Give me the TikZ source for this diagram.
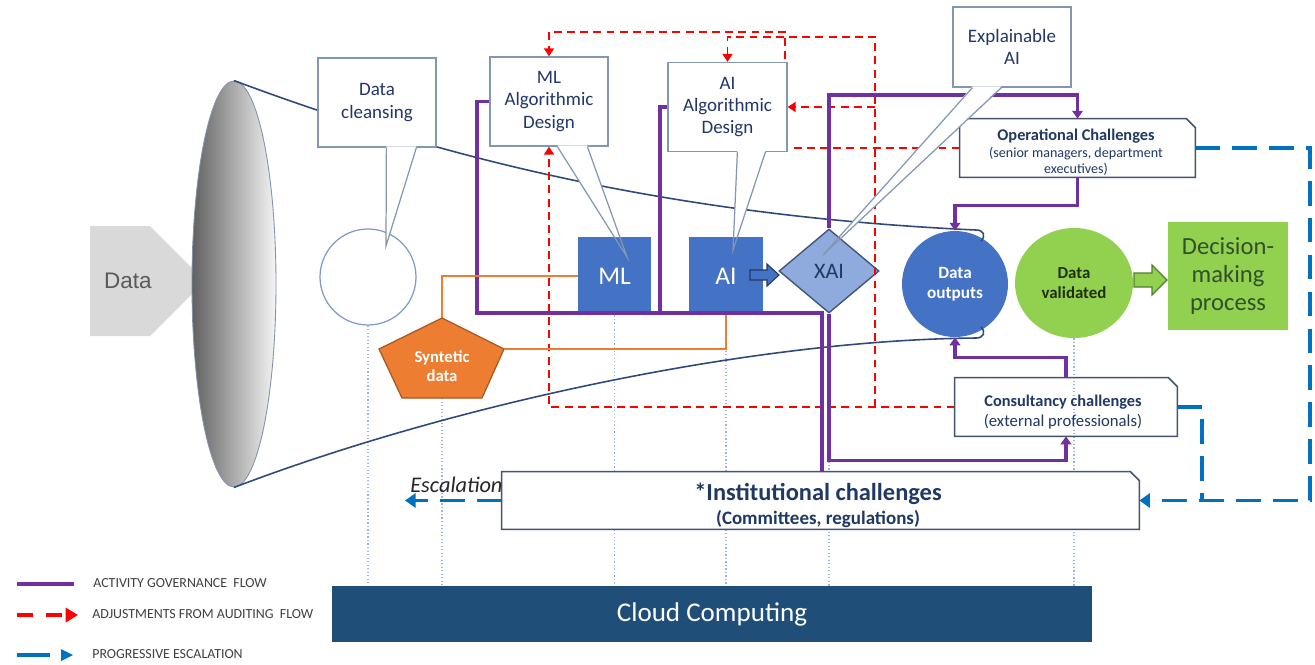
\documentclass[tikz,border=0pt]{standalone}
\usepackage{fontspec}
\setmainfont{Carlito}
\newfontfamily\arialf{Liberation Sans}
\usetikzlibrary{shapes.geometric,arrows.meta,calc}
\definecolor{navy}{HTML}{1F3864}
\definecolor{calltext}{HTML}{23366A}
\definecolor{govc}{HTML}{7030A0}
\definecolor{escc}{HTML}{0070C0}
\definecolor{orng}{HTML}{ED7D31}
\definecolor{mblue}{HTML}{4472C4}
\definecolor{lblue}{HTML}{8FAADC}
\definecolor{lgreen}{HTML}{92D050}
\definecolor{dgreen}{HTML}{507E32}
\definecolor{dtext}{HTML}{203010}
\definecolor{dectext}{HTML}{31502B}
\definecolor{cloudc}{HTML}{1F4E79}
\definecolor{callc}{HTML}{8497B0}
\definecolor{chalc}{HTML}{44546A}
\definecolor{func}{HTML}{2F4A7A}
\definecolor{dotc}{HTML}{9DB4E0}
\definecolor{legt}{HTML}{404040}
\pgfdeclarelayer{bg}
\pgfdeclarelayer{shapes}
\pgfdeclarelayer{lines}
\pgfdeclarelayer{front}
\pgfsetlayers{bg,shapes,lines,main,front}
\tikzset{
  sz/.style 2 args={minimum width=#1*0.02cm,minimum height=#2*0.02cm},
  callbox/.style={draw=callc,line width=0.7pt,fill=white,inner sep=0pt,align=center,text=calltext,font=\fontsize{10.8}{12.6}\selectfont},
  chaltext/.style={anchor=base,text=navy,inner sep=0pt},
  gov/.style={draw=govc,line width=1.9pt},
  govarr/.style={gov,-{Triangle[width=6pt,length=4.5pt]}},
  aud/.style={draw=red,line width=1.1pt,dash pattern=on 4.5pt off 3pt},
  audarr/.style={aud,-{Triangle[width=5.5pt,length=4.5pt]}},
  escl/.style={draw=escc,line width=1.8pt,dash pattern=on 14pt off 7pt},
  escarr/.style={escl,-{Triangle[width=8pt,length=6pt]}},
  orl/.style={draw=orng,line width=1.5pt},
  dotl/.style={draw=dotc,line width=0.6pt,dash pattern=on 0.7pt off 1.3pt},
  funl/.style={draw=func,line width=0.9pt},
  legtext/.style={anchor=base west,text=legt,inner sep=0pt,font=\fontsize{7.9}{9}\selectfont},
}
\newcommand{\chambox}[2]{\draw[draw=chalc,line width=0.9pt] (#1.south west) -- (#1.north west) -- ($(#1.north east)+(-#2,0)$) -- ($(#1.north east)+(0,#2)$) -- (#1.south east) -- cycle;}
\newcommand{\callptr}[6]{%
  \fill[white] ($(#1.south west)+(#2,-1.2)$) -- (#5) -- (#6) -- ($(#1.south west)+(#3,-1.2)$) -- cycle;
  \draw[draw=callc,line width=0.7pt] ($(#1.south west)+(#2,0)$) -- (#4) -- ($(#1.south west)+(#3,0)$);}
\begin{document}
\begin{tikzpicture}[x=0.02cm,y=-0.02cm]
\useasboundingbox (0,0) rectangle (1315,664);
\begin{pgfonlayer}{bg}
\fill[white] (0,0) rectangle (1315,664);
\end{pgfonlayer}

% ---------- shapes ----------
\begin{pgfonlayer}{shapes}
\fill[black!15] (90,226) -- (150,226) -- (205,281) -- (150,336) -- (90,336) -- cycle;
\node[font=\arialf\fontsize{12.8}{14}\selectfont,text=black!65] (data) at (128,281) {Data};
\node[ellipse,draw=func!60,line width=0.5pt,left color=black!62,right color=black!4,sz={84}{406},inner sep=0pt] (mouth) at (234,284) {};
\node[circle,draw=lblue!90!black,line width=0.7pt,fill=white,minimum size=1.92cm,inner sep=0pt] (dcirc) at (368,277) {};
\node[fill=mblue,sz={73}{78},inner sep=0pt,text=white,font=\fontsize{14.5}{16}\selectfont] (ml) at (614.5,276) {ML};
\node[fill=mblue,sz={74}{78},inner sep=0pt,text=white,font=\fontsize{14.5}{16}\selectfont] (ai) at (726,276) {AI};
\node[diamond,draw=navy!85,line width=0.8pt,fill=lblue,sz={100}{84},inner sep=0pt,text=navy,font=\fontsize{12.6}{14}\selectfont] (xai) at (829,271) {XAI};
\node[circle,fill=mblue,minimum size=2.12cm,inner sep=0pt,align=center,text=white,font=\bfseries\fontsize{9.8}{11.4}\selectfont] (dout) at (955,284) {Data\\outputs};
\node[ellipse,fill=lgreen,sz={118}{110},inner sep=0pt,align=center,text=dtext,font=\bfseries\fontsize{9.6}{11.4}\selectfont] (dval) at (1074,283) {Data\\validated};
\node[fill=lgreen,sz={120}{108},inner sep=0pt,align=center,text=dectext,font=\fontsize{14}{15.9}\selectfont] (dec) at (1228,276) {Decision-\\making\\process};
\coordinate (syntop) at (442,318);
\coordinate (synright) at (504,349);
\coordinate (synbot) at (442,398);
\filldraw[fill=orng,draw=orng!70!black,line width=0.7pt] (syntop) -- (synright) -- (482,398) -- (402,398) -- (379,349) -- cycle;
\node[align=center,text=white,font=\bfseries\fontsize{9.5}{10.8}\selectfont] (syn) at (442,366) {Syntetic\\data};
\filldraw[fill=mblue,draw=navy,line width=0.6pt] (750,270) -- (767,270) -- (767,264) -- (779,275) -- (767,286) -- (767,280) -- (750,280) -- cycle;
\filldraw[fill=lgreen,draw=dgreen,line width=0.7pt] (1134,273) -- (1152,273) -- (1152,265) -- (1167,280) -- (1152,295) -- (1152,287) -- (1134,287) -- cycle;
\node[fill=cloudc,sz={760}{56},inner sep=0pt,text=white,font=\fontsize{15.4}{17}\selectfont] (cloud) at (712,614) {Cloud Computing};
\end{pgfonlayer}

% ---------- boxes (main layer) ----------
\node[callbox,sz={118}{89}] (dcb) at (377,102.5) {Data\\cleansing};
\node[callbox,sz={118}{89}] (mld) at (549,101.5) {ML\\Algorithmic\\Design};
\node[callbox,sz={119}{89}] (aid) at (727.5,107) {AI\\Algorithmic\\Design};
\node[callbox,sz={118}{80}] (xad) at (1012,47) {Explainable\\AI};

\node[fill=white,sz={235}{58},inner sep=0pt] (op) at (1077.5,148) {};
\chambox{op}{9}
\node[chaltext,font=\bfseries\fontsize{9.3}{11}\selectfont] (op1) at (1076,140) {Operational Challenges};
\node[chaltext,font=\fontsize{8}{9.6}\selectfont] (op2) at (1076,157) {(senior managers, department};
\node[chaltext,font=\fontsize{8}{9.6}\selectfont] (op3) at (1076,173) {executives)};

\node[sz={222}{58},inner sep=0pt] (cons) at (1066,407) {};
\chambox{cons}{9}
\node[chaltext,font=\bfseries\fontsize{9.3}{11}\selectfont] (cons1) at (1063,406) {Consultancy challenges};
\node[chaltext,font=\fontsize{9.5}{11}\selectfont] (cons2) at (1063,426) {(external professionals)};

\node[fill=white,sz={637}{57},inner sep=0pt] (ins) at (820.5,500.5) {};
\chambox{ins}{9}
\node[chaltext,font=\bfseries\fontsize{13.9}{16}\selectfont] (ins1) at (818,500) {*Institutional challenges};
\node[chaltext,font=\bfseries\fontsize{10.8}{13}\selectfont] (ins2) at (818,524) {(Committees, regulations)};

\node[anchor=base west,inner sep=0pt,text=black!85,font=\itshape\fontsize{12.7}{14}\selectfont] (esct) at (410,492) {Escalation};

% ---------- dotted verticals ----------
\begin{pgfonlayer}{bg}
\draw[dotl] (dcirc.south) -- (dcirc.south |- cloud.north);
\draw[dotl] (synbot) -- (synbot |- cloud.north);
\draw[dotl] (ml.south) -- (ml.south |- cloud.north);
\draw[dotl] (ai.south) -- (ai.south |- cloud.north);
\draw[dotl] (xai.south) -- (xai.south |- cloud.north);
\draw[dotl] (dval.south) -- (dval.south |- cloud.north);
\end{pgfonlayer}

% ---------- connectors ----------
\begin{pgfonlayer}{lines}
\coordinate (ftop) at (976,230);
\coordinate (fbot) at (976,338);
\draw[funl] (mouth.north) .. controls (420,150) and (650,215) .. (ftop) .. controls (984,230) and (986,236) .. (981,241);
\draw[funl] (mouth.south) .. controls (450,405) and (750,340) .. (fbot) .. controls (984,338) and (986,332) .. (981,327);
% auditing
\coordinate (rj) at (875,407);
\coordinate (rk) at (875,107);
\draw[audarr] (op.west) -- (785,148) -- (785,32) -- (549,32) -- (mld.north);
\draw[audarr] (cons.west) -- (549,407) -- (mld.south);
\draw[audarr] (rj) -- (875,37) -- (727.5,37) -- (aid.north);
\draw[audarr] (rk) -- (aid.east);
% governance
\coordinate (pd) at (822,313);
\draw[gov] (mld.west) -- (477,101.5) -- (477,313) -- (pd) -- (pd |- ins.north);
\draw[gov] (aid.west) -- (660,107) -- (660,313);
\draw[govarr] (xai.north) -- (829,95) -| (op.north);
\draw[govarr] (op.south) -- ++(0,28) -| (dout.north);
\draw[govarr] (xai.south) -- ++(0,147) -| (cons.south);
\draw[govarr] (cons.north) -- ++(0,-20) -| (dout.south);
% synthetic data
\draw[orl] (syntop) |- (ml.west);
\draw[orl] (synright) -| (ai.south);
% escalation
\coordinate (escend) at (405,500.5);
\draw[escarr] (op.east) -- (1310,148) -- (1310,500.5) -- (ins.east);
\draw[escl] (cons.east) -- (1202,407) -- (1202,500.5);
\draw[escarr] (ins.west) -- (escend);
\end{pgfonlayer}

% ---------- callout pointers ----------
\begin{pgfonlayer}{front}
\callptr{dcb}{69}{99}{386,246}{386,246}{386,246}
\callptr{mld}{68}{98}{627,257}{614.6,237}{620,237}
\callptr{aid}{70}{98}{733,250}{733.7,237}{737.4,237}
\callptr{xad}{20}{49}{823,255}{841,235}{844.3,235}
\end{pgfonlayer}

% ---------- legend ----------
\coordinate (l1a) at (17,584); \coordinate (l1b) at (74,584);
\coordinate (l2a) at (17,615); \coordinate (l2b) at (78,615);
\coordinate (l3a) at (17,655); \coordinate (l3b) at (50,655);
\draw[govc,line width=2.2pt] (l1a) -- (l1b);
\draw[red,line width=2pt,dash pattern=on 9pt off 7.4pt,-{Triangle[width=8pt,length=7pt]}] (l2a) -- (l2b);
\draw[escc,line width=2.2pt] (l3a) -- (l3b);
\fill[escc] (61,649) -- (73,655) -- (61,661) -- cycle;
\node[legtext] (lt1) at (93,587) {ACTIVITY GOVERNANCE\ \ FLOW};
\node[legtext] (lt2) at (92,618) {ADJUSTMENTS FROM AUDITING\ \ FLOW};
\node[legtext] (lt3) at (92,658) {PROGRESSIVE ESCALATION};
\end{tikzpicture}
\end{document}
